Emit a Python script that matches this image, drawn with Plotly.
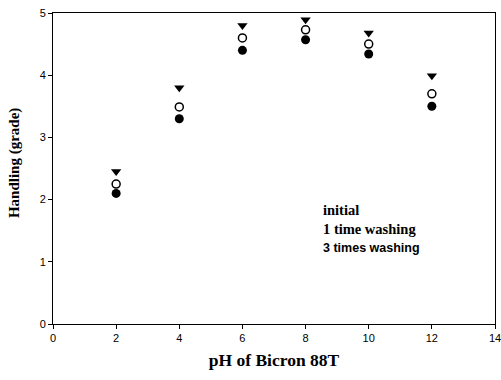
import plotly.graph_objects as go

ph = [2, 4, 6, 8, 10, 12]
initial = [2.10, 3.30, 4.40, 4.57, 4.34, 3.50]
wash1 = [2.25, 3.49, 4.60, 4.73, 4.50, 3.70]
wash3 = [2.45, 3.80, 4.80, 4.89, 4.68, 3.99]
xticks = [0, 2, 4, 6, 8, 10, 12, 14]
yticks = [0, 1, 2, 3, 4, 5]
labels = ["initial", "1 time washing", "3 times washing"]

fig = go.Figure()
fig.add_trace(go.Scatter(x=ph, y=initial, mode="markers", name=labels[0],
                         marker=dict(symbol="circle", size=9, color="black")))
fig.add_trace(go.Scatter(x=ph, y=wash1, mode="markers", name=labels[1],
                         marker=dict(symbol="circle-open", size=8, color="black",
                                     line=dict(width=1.5, color="black"))))
fig.add_trace(go.Scatter(x=ph, y=wash3, mode="markers", name=labels[2],
                         marker=dict(symbol="triangle-down", size=9, color="black")))

fonts = ["Liberation Serif", "Liberation Serif", "Liberation Sans"]
sizes = [14.5, 14.5, 12.5]
ypos = [0.365, 0.307, 0.245]
for lab, fnt, sz, yp in zip(labels, fonts, sizes, ypos):
    fig.add_annotation(text="<b>%s</b>" % lab, xref="paper", yref="paper",
                       x=0.607, y=yp, xanchor="left", yanchor="middle",
                       showarrow=False, font=dict(family=fnt, size=sz, color="black"))

# y-axis title as rotated annotation for exact placement
fig.add_annotation(text="<b>Handling (grade)</b>", xref="paper", yref="paper",
                   x=-0.0855, y=0.518, xanchor="center", yanchor="middle",
                   textangle=-90, showarrow=False,
                   font=dict(family="Liberation Serif", size=15, color="black"))

fig.update_layout(
    width=501, height=380,
    margin=dict(l=53, r=6, t=13, b=56),
    plot_bgcolor="white", paper_bgcolor="white",
    showlegend=False,
    font=dict(family="Liberation Sans", size=11, color="black"),
)
fig.update_xaxes(range=[0, 14], tickvals=xticks, showgrid=False, zeroline=False,
                 showline=True, linecolor="black", linewidth=1, mirror=True,
                 ticks="outside", ticklen=4, tickcolor="black",
                 automargin=False, ticklabeloverflow="allow",
                 title=dict(text="<b>pH of Bicron 88T</b>", standoff=10,
                            font=dict(family="Liberation Serif", size=17.5)))
fig.update_yaxes(range=[0, 5], tickvals=yticks, showgrid=False, zeroline=False,
                 showline=True, linecolor="black", linewidth=1, mirror=True,
                 ticks="outside", ticklen=4, tickcolor="black",
                 automargin=False, ticklabeloverflow="allow")

fig.write_html("out.html", config={"displayModeBar": False},
               post_script="document.body.style.margin='0';document.body.style.overflow='hidden';")
